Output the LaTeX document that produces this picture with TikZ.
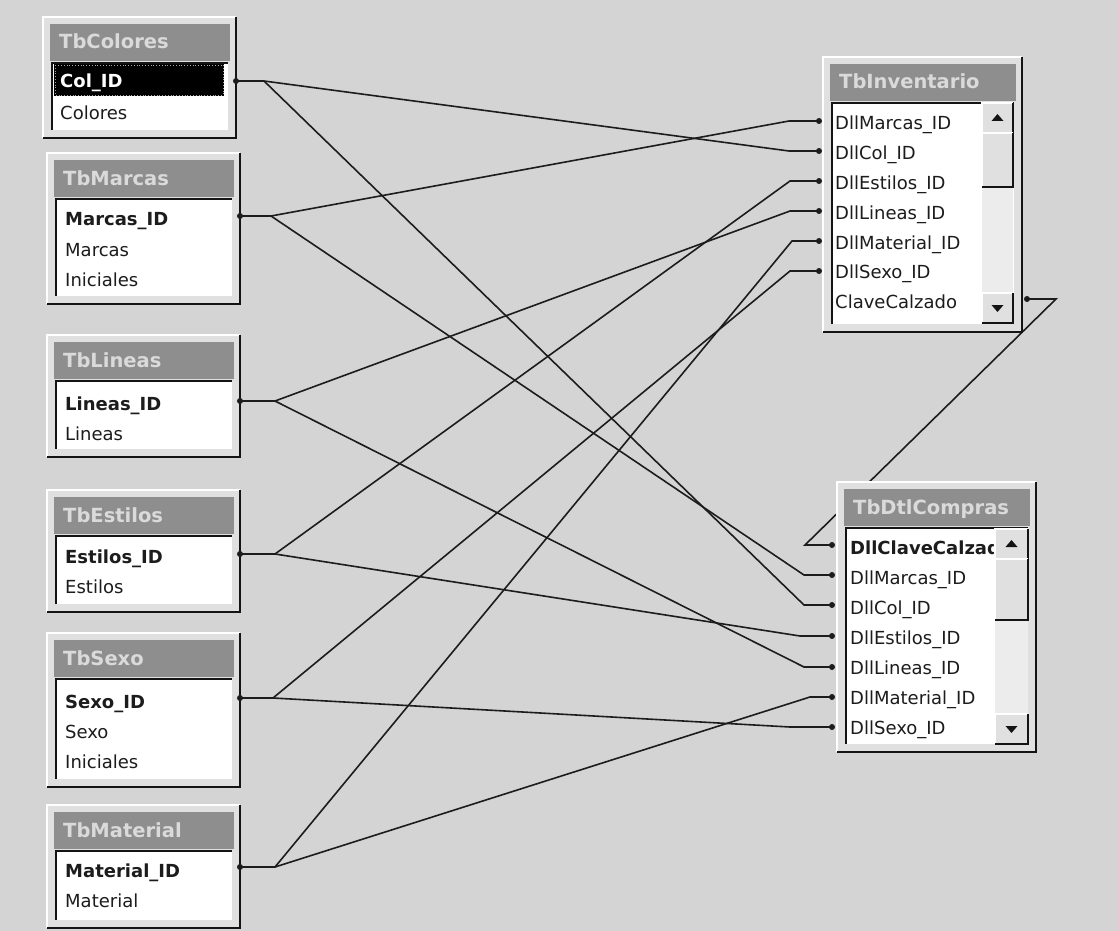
\documentclass[tikz,border=0pt]{standalone}
\usepackage{fontspec}
\setmainfont{DejaVu Sans}
\definecolor{bg}{RGB}{212,212,212}
\definecolor{face}{RGB}{224,224,224}
\definecolor{titlebar}{RGB}{142,142,142}
\definecolor{titletext}{RGB}{218,218,218}
\definecolor{ink}{RGB}{28,28,28}
\definecolor{edge}{RGB}{20,20,20}
\definecolor{track}{RGB}{236,236,236}
\tikzset{
  titlelabel/.style={anchor=west,inner sep=0pt,text height=14pt,text depth=0pt,
    font=\fontsize{19.5}{21}\selectfont\bfseries,text=titletext},
  field/.style={anchor=west,inner sep=0pt,text height=13pt,text depth=0pt,
    font=\fontsize{18}{20}\selectfont,text=ink},
  keyfield/.style={field,font=\fontsize{18}{20}\selectfont\bfseries},
  link/.style={draw=ink,line width=1.6pt},
}
\newcommand{\tblbox}[6]{%
  \fill[face] (#2,#3) rectangle (#4,#5);
  \draw[white,line width=2pt] (#2,#5) -- (#2,#3) -- (#4,#3);
  \draw[edge,line width=2.6pt] (#4,#3) -- (#4,#5) -- (#2,#5);
  \fill[titlebar] ({#2+7},{#3+7}) rectangle ({#4-6},{#3+44});
  \node[titlelabel] (#1-title) at ({#2+16},{#3+25}) {#6};
  \fill[white] ({#2+9},{#3+46}) rectangle ({#4-8},{#5-8});
  \draw[edge,line width=2.2pt] ({#2+9},{#5-8}) -- ({#2+9},{#3+46}) -- ({#4-8},{#3+46});
}
\newcommand{\raisedbtn}[4]{%
  \fill[face] (#1,#2) rectangle (#3,#4);
  \draw[white,line width=1.2pt] (#1,#4) -- (#1,#2) -- (#3,#2);
  \draw[edge,line width=1.8pt] (#3,#2) -- (#3,#4) -- (#1,#4);
}
\newcommand{\sbarbox}[5]{%
  \fill[track] (#1,#3) rectangle (#2,#4);
  \raisedbtn{#1}{#3}{#2}{#3+30}
  \raisedbtn{#1}{#3+30}{#2}{#5}
  \raisedbtn{#1}{#4-30}{#2}{#4}
  \fill[edge] ({(#1+#2)/2-6},{#3+18}) -- ({(#1+#2)/2+6},{#3+18}) -- ({(#1+#2)/2},{#3+11}) -- cycle;
  \fill[edge] ({(#1+#2)/2-6},{#4-18}) -- ({(#1+#2)/2+6},{#4-18}) -- ({(#1+#2)/2},{#4-11}) -- cycle;
}
\begin{document}
\begin{tikzpicture}[x=1pt,y=-1pt]
\useasboundingbox (0,0) rectangle (1119,931);
\fill[bg] (0,0) rectangle (1119,931);

% ports and bends
\coordinate (colP) at (236,81);  \coordinate (colS) at (264,81);
\coordinate (marP) at (240,216); \coordinate (marS) at (271,216);
\coordinate (linP) at (240,401); \coordinate (linS) at (275,401);
\coordinate (estP) at (240,554); \coordinate (estS) at (275,554);
\coordinate (sexP) at (240,698); \coordinate (sexS) at (273,698);
\coordinate (matP) at (240,867); \coordinate (matS) at (275,867);

\coordinate (iMar) at (819,121); \coordinate (iMarB) at (789,121);
\coordinate (iCol) at (819,151); \coordinate (iColB) at (789,151);
\coordinate (iEst) at (819,181); \coordinate (iEstB) at (790,181);
\coordinate (iLin) at (819,211); \coordinate (iLinB) at (790,211);
\coordinate (iMat) at (819,241); \coordinate (iMatB) at (792,241);
\coordinate (iSex) at (819,271); \coordinate (iSexB) at (790,271);
\coordinate (iCla) at (1027,299); \coordinate (iClaB) at (1056,299);

\coordinate (dCla) at (832,545); \coordinate (dClaB) at (805,545);
\coordinate (dMar) at (832,575); \coordinate (dMarB) at (804,575);
\coordinate (dCol) at (832,605); \coordinate (dColB) at (804,605);
\coordinate (dEst) at (832,636); \coordinate (dEstB) at (800,636);
\coordinate (dLin) at (832,667); \coordinate (dLinB) at (804,667);
\coordinate (dMat) at (832,697); \coordinate (dMatB) at (810,697);
\coordinate (dSex) at (832,727); \coordinate (dSexB) at (790,727);

% connectors
\draw[link] (colP) -- (colS) -- (iColB) -- (iCol);
\draw[link] (colS) -- (dColB) -- (dCol);
\draw[link] (marP) -- (marS) -- (iMarB) -- (iMar);
\draw[link] (marS) -- (dMarB) -- (dMar);
\draw[link] (linP) -- (linS) -- (iLinB) -- (iLin);
\draw[link] (linS) -- (dLinB) -- (dLin);
\draw[link] (estP) -- (estS) -- (iEstB) -- (iEst);
\draw[link] (estS) -- (dEstB) -- (dEst);
\draw[link] (sexP) -- (sexS) -- (iSexB) -- (iSex);
\draw[link] (sexS) -- (dSexB) -- (dSex);
\draw[link] (matP) -- (matS) -- (iMatB) -- (iMat);
\draw[link] (matS) -- (dMatB) -- (dMat);
\draw[link] (iCla) -- (iClaB) -- (dClaB) -- (dCla);

% left tables
\tblbox{colores}{43}{17}{236}{138}{TbColores}
\fill[black] (54,64) rectangle (224,96);
\draw[gray!70,dotted,line width=0.8pt] (55,65) rectangle (223,95);
\node[keyfield,text=white] (colores-r1) at (60,81) {Col\_ID};
\node[field] (colores-r2) at (60,113) {Colores};

\tblbox{marcas}{47}{153}{240}{304}{TbMarcas}
\node[keyfield] (marcas-r1) at (65,219) {Marcas\_ID};
\node[field] (marcas-r2) at (65,250) {Marcas};
\node[field] (marcas-r3) at (65,280) {Iniciales};

\tblbox{lineas}{47}{335}{240}{457}{TbLineas}
\node[keyfield] (lineas-r1) at (65,404) {Lineas\_ID};
\node[field] (lineas-r2) at (65,434) {Lineas};

\tblbox{estilos}{47}{490}{240}{612}{TbEstilos}
\node[keyfield] (estilos-r1) at (65,557) {Estilos\_ID};
\node[field] (estilos-r2) at (65,587) {Estilos};

\tblbox{sexo}{47}{633}{240}{787}{TbSexo}
\node[keyfield] (sexo-r1) at (65,702) {Sexo\_ID};
\node[field] (sexo-r2) at (65,732) {Sexo};
\node[field] (sexo-r3) at (65,762) {Iniciales};

\tblbox{material}{47}{805}{240}{928}{TbMaterial}
\node[keyfield] (material-r1) at (65,871) {Material\_ID};
\node[field] (material-r2) at (65,901) {Material};

% right tables
\tblbox{inv}{823}{57}{1022}{332}{TbInventario}
\node[field] (inv-r1) at (835,123) {DllMarcas\_ID};
\node[field] (inv-r2) at (835,153) {DllCol\_ID};
\node[field] (inv-r3) at (835,183) {DllEstilos\_ID};
\node[field] (inv-r4) at (835,213) {DllLineas\_ID};
\node[field] (inv-r5) at (835,243) {DllMaterial\_ID};
\node[field] (inv-r6) at (835,272) {DllSexo\_ID};
\node[field] (inv-r7) at (835,302) {ClaveCalzado};
\sbarbox{982}{1013}{103}{323}{187}

\tblbox{dtl}{837}{482}{1036}{752}{TbDtlCompras}
\node[keyfield] (dtl-r1) at (850,548) {DllClaveCalzado};
\node[field] (dtl-r2) at (850,578) {DllMarcas\_ID};
\node[field] (dtl-r3) at (850,608) {DllCol\_ID};
\node[field] (dtl-r4) at (850,638) {DllEstilos\_ID};
\node[field] (dtl-r5) at (850,668) {DllLineas\_ID};
\node[field] (dtl-r6) at (850,698) {DllMaterial\_ID};
\node[field] (dtl-r7) at (850,728) {DllSexo\_ID};
\sbarbox{995}{1028}{529}{744}{620}

% port dots
\foreach \p in {colP,marP,linP,estP,sexP,matP,iMar,iCol,iEst,iLin,iMat,iSex,iCla,dCla,dMar,dCol,dEst,dLin,dMat,dSex}
  \fill[ink] (\p) circle (3pt);
\end{tikzpicture}
\end{document}
